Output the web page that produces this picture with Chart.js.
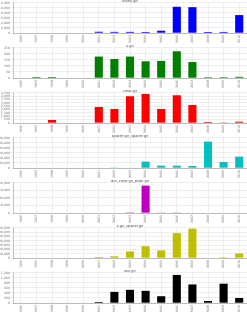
<!DOCTYPE html>
<html>
<head>
<meta charset="utf-8">
<script src="https://cdn.jsdelivr.net/npm/chart.js@4/dist/chart.umd.min.js"></script>
<style>
  html, body { margin: 0; padding: 0; background: #fff; overflow: hidden; }
  .panel { position: absolute; left: 0; width: 247px; height: 45px; }
</style>
</head>
<body>
<div id="panels"></div>
<script>
// categories (years on the x axis)
const years = ['1996', '1997', '1998', '1999', '2000', '2001', '2002', '2003',
               '2004', '2005', '2006', '2007', '2008', '2009', '2010'];

// one series per panel
const blankValues    = [0, 0, 0, 0, 0, 500, 450, 450, 400, 900, 10450, 10300, 400, 420, 7150];
const sValues        = [0, 8, 8, 0, 0, 178, 158, 178, 139, 142, 222, 133, 7, 7, 10];
const clearValues    = [0, 0, 450, 0, 0, 2400, 2100, 4000, 4350, 2100, 4150, 2700, 150, 80, 200];
const spacerValues   = [0, 0, 0, 0, 0, 10000, 20000, 10000, 253000, 93000, 93000, 80000, 1053000, 240000, 453000];
const dotClearValues = [0, 0, 0, 0, 0, 2000, 2000, 4000, 182000, 3000, 3000, 2000, 0, 0, 0];
const sSpacerValues  = [0, 0, 0, 0, 0, 24000, 40000, 153000, 274000, 177000, 579000, 684000, 8000, 16000, 105000];
const dotValues      = [0, 0, 0, 0, 0, 40, 445, 525, 485, 270, 1120, 740, 80, 770, 200];

// panel titles and y axis tick setup
const titles = ['blank.gif', 's.gif', 'clear.gif', 'spacer.gif_spacer.gif',
                'dot_clear.gif_pixel.gif', 's.gif_spacer.gif', 'dot.gif'];
const yMax   = [12000, 250, 4500, 1200000, 200000, 700000, 1200];
const ySteps = [2000, 50, 500, 200000, 50000, 100000, 200];
const colors = ['#0000ff', '#008000', '#ff0000', '#00c0c0', '#c000c0', '#bfbf00', '#000000'];

const series = [blankValues, sValues, clearValues, spacerValues, dotClearValues, sSpacerValues, dotValues];

// small title drawn right above the plot area
const panelTitle = {
    id: 'panelTitle',
    afterDraw(chart, args, opts) {
        const ctx = chart.ctx;
        const area = chart.chartArea;
        ctx.save();
        ctx.font = '3.6px "DejaVu Sans"';
        ctx.fillStyle = '#555';
        ctx.textAlign = 'center';
        ctx.textBaseline = 'middle';
        ctx.fillText(opts.text, (area.left + area.right) / 2, 1.3);
        ctx.restore();
    }
};

const holder = document.getElementById('panels');

series.forEach((values, i) => {
    const div = document.createElement('div');
    div.className = 'panel';
    div.style.top = (i * 45) + 'px';
    const canvas = document.createElement('canvas');
    div.appendChild(canvas);
    holder.appendChild(div);

    new Chart(canvas, {
        type: 'bar',
        data: {
            labels: years,
            datasets: [{
                data: values,
                backgroundColor: colors[i],
                borderWidth: 0,
                barPercentage: 0.52,
                categoryPercentage: 1.0
            }]
        },
        options: {
            responsive: true,
            maintainAspectRatio: false,
            animation: false,
            layout: { padding: { top: 1, right: 0, left: 0, bottom: 0 } },
            plugins: {
                legend: { display: false },
                tooltip: { enabled: false },
                title: { display: false },
                panelTitle: { text: titles[i] }
            },
            scales: {
                x: {
                    offset: true,
                    grid: { offset: false, color: '#e2e2e2', lineWidth: 0.6, drawTicks: false },
                    border: { color: '#999', width: 0.6 },
                    ticks: {
                        font: { family: 'DejaVu Sans', size: 3.2 },
                        color: '#777',
                        minRotation: 90,
                        maxRotation: 90,
                        padding: 2,
                        autoSkip: false
                    },
                    afterFit: function(scale) { scale.height = 12; }
                },
                y: {
                    min: 0,
                    max: yMax[i],
                    grid: { color: '#e2e2e2', lineWidth: 0.6, tickLength: 2 },
                    border: { color: '#999', width: 0.6 },
                    ticks: {
                        stepSize: ySteps[i],
                        autoSkip: false,
                        font: { family: 'DejaVu Sans', size: 3.2 },
                        color: '#777',
                        padding: 1
                    },
                    afterFit: function(scale) { scale.width = 13; }
                }
            }
        },
        plugins: [panelTitle]
    });
});
</script>
</body>
</html>
